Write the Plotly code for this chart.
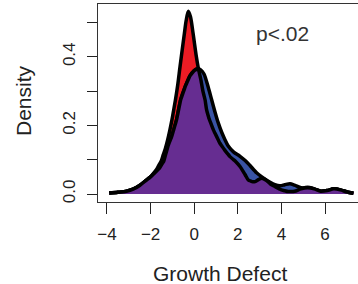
import numpy as np
import plotly.graph_objects as go

# Density estimates
red_x = [-3.9, -3.5, -3.1, -2.8, -2.5, -2.2, -2.0, -1.87, -1.72, -1.61, -1.5, -1.42, -1.32, -1.22,
         -1.12, -1.02, -0.94, -0.86, -0.75, -0.65, -0.55, -0.45, -0.37, -0.27, -0.17, -0.05, 0.1,
         0.18, 0.31, 0.4, 0.5, 0.57, 0.68, 0.88, 1.18, 1.4, 1.64, 1.9, 2.1, 2.3, 2.48, 2.65, 2.79,
         2.95, 3.1, 3.3, 3.48, 3.75, 4.0, 4.3, 4.6, 4.9, 5.2, 5.5, 5.8, 6.1, 6.4, 6.7, 7.0, 7.3]
red_y = [0.003, 0.005, 0.008, 0.014, 0.025, 0.04, 0.05, 0.06, 0.072, 0.085, 0.098, 0.114, 0.133, 0.157,
         0.185, 0.216, 0.245, 0.274, 0.32, 0.371, 0.42, 0.468, 0.505, 0.533, 0.517, 0.468, 0.40,
         0.37, 0.332, 0.30, 0.274, 0.245, 0.22, 0.187, 0.148, 0.128, 0.109, 0.095, 0.08, 0.06, 0.041, 0.036, 0.036,
         0.042, 0.046, 0.04, 0.03, 0.02, 0.012, 0.007, 0.008, 0.015, 0.02, 0.015, 0.008, 0.01, 0.015, 0.012, 0.006, 0.002]

blue_x = [-3.9, -3.5, -3.1, -2.8, -2.5, -2.2, -2.0, -1.8, -1.6, -1.4, -1.2, -1.02, -0.81, -0.62,
          -0.4, -0.19, 0.0, 0.15, 0.3, 0.45, 0.65, 0.8, 0.95, 1.1, 1.26, 1.4, 1.56, 1.8, 2.1, 2.35,
          2.56, 2.86, 3.1, 3.48, 3.7, 3.94, 4.15, 4.39, 4.6, 4.9, 5.2, 5.5, 5.8, 6.1, 6.4, 6.7, 7.0, 7.3]
blue_y = [0.003, 0.005, 0.008, 0.014, 0.025, 0.04, 0.05, 0.062, 0.075, 0.095, 0.14, 0.17, 0.216, 0.275,
          0.315, 0.345, 0.36, 0.365, 0.362, 0.35, 0.31, 0.275, 0.24, 0.208, 0.18, 0.16, 0.14, 0.123, 0.11, 0.097,
          0.083, 0.062, 0.05, 0.034, 0.027, 0.024, 0.027, 0.03, 0.026, 0.018, 0.018, 0.015, 0.008, 0.01, 0.015, 0.012, 0.006, 0.002]

x_ticks = [-4, -2, 0, 2, 4, 6]
x_tick_text = ["\u22124", "\u22122", "0", "2", "4", "6"]
y_ticks = [0.0, 0.1, 0.2, 0.3, 0.4, 0.5]
y_tick_text = ["0.0", "", "0.2", "", "0.4", ""]
x_title = "Growth Defect"
y_title = "Density"
p_label = "p<.02"

# overlap region (purple) = pointwise minimum of both densities on a common grid
grid = sorted(set(red_x) | set(blue_x))
red_g = np.interp(grid, red_x, red_y)
blue_g = np.interp(grid, blue_x, blue_y)
overlap = np.minimum(red_g, blue_g)

RED = "#ED1C24"
BLUE = "#3953A4"
PURPLE = "#662D91"
LW = 3.5

fig = go.Figure()
fig.add_trace(go.Scatter(x=red_x, y=red_y, fill="tozeroy", fillcolor=RED, mode="lines",
                         line=dict(color="black", width=LW, shape="spline", smoothing=0.8)))
fig.add_trace(go.Scatter(x=blue_x, y=blue_y, fill="tozeroy", fillcolor=BLUE, mode="lines",
                         line=dict(color="black", width=LW, shape="spline", smoothing=0.8)))
fig.add_trace(go.Scatter(x=grid, y=overlap, fill="tozeroy", fillcolor=PURPLE, mode="lines",
                         line=dict(color="black", width=LW, shape="spline", smoothing=0.8)))

font = "Liberation Sans, Arial, sans-serif"
fig.add_annotation(x=4.07, y=0.469, text=p_label, showarrow=False,
                   xanchor="center", yanchor="middle",
                   font=dict(family=font, size=21, color="#333"))
# axis titles placed as annotations for exact positioning
fig.add_annotation(xref="paper", yref="paper", x=0.469, y=-0.3586, text=x_title,
                   xanchor="center", yanchor="middle", borderpad=0,
                   showarrow=False, font=dict(family=font, size=21, color="#222"))
fig.add_annotation(xref="paper", yref="paper", x=-0.2885, y=0.515, text=y_title, textangle=-90,
                   xanchor="center", yanchor="middle",
                   showarrow=False, font=dict(family=font, size=21, color="#222"))

fig.update_layout(
    width=358, height=284,
    margin=dict(l=98, r=0, t=4, b=82),
    paper_bgcolor="white", plot_bgcolor="white",
    showlegend=False,
    font=dict(family=font, color="#222"),
    xaxis=dict(range=[-4.41, 7.51], tickvals=x_ticks, ticktext=x_tick_text,
               ticks="outside", ticklen=11, tickcolor="#222", tickwidth=1,
               showline=True, linecolor="#333", linewidth=1, mirror=True,
               showgrid=False, zeroline=False, tickfont=dict(size=17),
               ticklabelstandoff=6, automargin=False),
    yaxis=dict(range=[-0.0233, 0.554], tickvals=y_ticks, ticktext=y_tick_text,
               ticks="outside", ticklen=10, tickcolor="#222", tickwidth=1,
               showline=True, linecolor="#333", linewidth=1,
               showgrid=False, zeroline=False, tickfont=dict(size=17), tickangle=-90,
               ticklabelstandoff=5, automargin=False),
)

fig.write_html("out.html", config={"displayModeBar": False},
               post_script="document.body.style.margin='0';")
